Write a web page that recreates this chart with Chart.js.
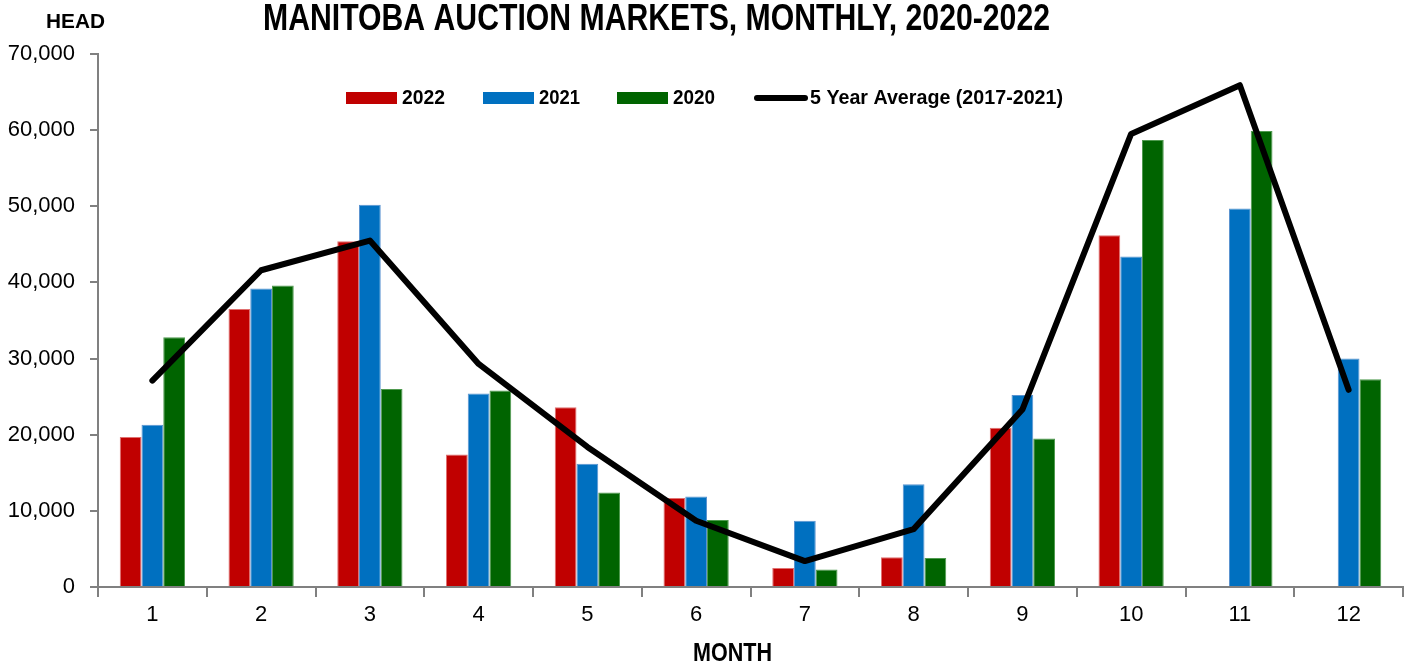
<!DOCTYPE html>
<html>
<head>
<meta charset="utf-8">
<script src="https://cdn.jsdelivr.net/npm/chart.js@4.4.1/dist/chart.umd.min.js"></script>
<style>
  html, body { margin: 0; padding: 0; background: #fff; }
  #wrap { position: relative; width: 1406px; height: 664px; }
</style>
</head>
<body>
<div id="wrap"><canvas id="auctionChart"></canvas></div>
<script>
const months = ["1", "2", "3", "4", "5", "6", "7", "8", "9", "10", "11", "12"];
const head2022 = [19700, 36500, 45400, 17400, 23600, 11700, 2500, 3900, 20900, 46200, null, null];
const head2021 = [21300, 39200, 50200, 25400, 16200, 11900, 8700, 13500, 25200, 43400, 49700, 30000];
const head2020 = [32800, 39600, 26000, 25800, 12400, 8800, 2300, 3800, 19500, 58700, 59900, 27300];
const fiveYearAvg = [27100, 41600, 45500, 29300, 18400, 8700, 3400, 7600, 23300, 59500, 65900, 25900];
const yTicks = [0, 10000, 20000, 30000, 40000, 50000, 60000, 70000];

const FONT = '"Liberation Sans", Arial, sans-serif';

// draw text squeezed/stretched to a given width, left aligned
function fitText(ctx, text, left, midY, width) {
  const w = ctx.measureText(text).width;
  ctx.save();
  ctx.translate(left, midY);
  ctx.scale(width / w, 1);
  ctx.textAlign = "left";
  ctx.textBaseline = "middle";
  ctx.fillText(text, 0, 0);
  ctx.restore();
}

const labelsPlugin = {
  id: "labelsPlugin",
  afterDraw(chart) {
    const ctx = chart.ctx;
    ctx.save();
    ctx.fillStyle = "#000";

    ctx.font = "bold 36px " + FONT;
    fitText(ctx, "MANITOBA AUCTION MARKETS, MONTHLY, 2020-2022", 263, 20, 787);

    ctx.font = "bold 20px " + FONT;
    fitText(ctx, "HEAD", 46, 22, 59);

    ctx.font = "bold 25px " + FONT;
    fitText(ctx, "MONTH", 693, 654, 79);

    // legend
    const items = [
      { ds: 1, x: 346, textW: 43 },
      { ds: 2, x: 483, textW: 41 },
      { ds: 3, x: 617, textW: 42 },
      { ds: 0, x: 754, textW: 253 },
    ];
    const ly = 98;
    ctx.font = "bold 20px " + FONT;
    items.forEach((it) => {
      const ds = chart.data.datasets[it.ds];
      if (ds.type === "line") {
        ctx.strokeStyle = ds.borderColor;
        ctx.lineWidth = 6;
        ctx.lineCap = "round";
        ctx.beginPath();
        ctx.moveTo(it.x + 3, ly);
        ctx.lineTo(it.x + 51, ly);
        ctx.stroke();
      } else {
        ctx.fillStyle = ds.backgroundColor;
        ctx.fillRect(it.x, ly - 6, 51, 12);
      }
      ctx.fillStyle = "#000";
      fitText(ctx, ds.label, it.x + 56, ly, it.textW);
    });
    ctx.restore();
  },
};

new Chart(document.getElementById("auctionChart"), {
  type: "bar",
  data: {
    labels: months,
    datasets: [
      {
        type: "line",
        label: "5 Year Average (2017-2021)",
        data: fiveYearAvg,
        borderColor: "#000000",
        backgroundColor: "#000000",
        borderWidth: 6,
        pointRadius: 0,
        tension: 0,
        borderCapStyle: "round",
        borderJoinStyle: "round",
        order: 0,
      },
      {
        label: "2022",
        data: head2022,
        backgroundColor: "#C00000",
        borderColor: "#E07070",
        borderWidth: 1,
        order: 1,
      },
      {
        label: "2021",
        data: head2021,
        backgroundColor: "#0070C0",
        borderColor: "#5A93D0",
        borderWidth: 1,
        order: 1,
      },
      {
        label: "2020",
        data: head2020,
        backgroundColor: "#006400",
        borderColor: "#4F9A4F",
        borderWidth: 1,
        order: 1,
      },
    ],
  },
  options: {
    responsive: true,
    maintainAspectRatio: false,
    animation: false,
    layout: {
      padding: { top: 54, right: 3, left: 0, bottom: 0 },
    },
    datasets: {
      bar: {
        categoryPercentage: 0.6,
        barPercentage: 1.0,
      },
    },
    plugins: {
      legend: { display: false },
      title: { display: false },
      tooltip: { enabled: false },
    },
    scales: {
      x: {
        afterFit: (scale) => { scale.height = 77; },
        grid: {
          offset: true,
          drawOnChartArea: false,
          drawTicks: true,
          tickLength: 10,
          color: "#808080",
          lineWidth: 2,
        },
        border: { color: "#808080", width: 2 },
        ticks: {
          color: "#000",
          padding: 5,
          font: { family: FONT, size: 22 },
        },
      },
      y: {
        min: 0,
        max: 70000,
        afterFit: (scale) => { scale.width = 98; },
        afterBuildTicks: (scale) => {
          scale.ticks = yTicks.map((v) => ({ value: v }));
        },
        grid: {
          drawOnChartArea: false,
          drawTicks: true,
          tickLength: 8,
          color: "#808080",
          lineWidth: 2,
        },
        border: { color: "#808080", width: 2 },
        ticks: {
          color: "#000",
          padding: 15,
          font: { family: FONT, size: 22 },
          callback: (v) => Number(v).toLocaleString("en-US"),
        },
      },
    },
  },
  plugins: [labelsPlugin],
});
</script>
</body>
</html>
